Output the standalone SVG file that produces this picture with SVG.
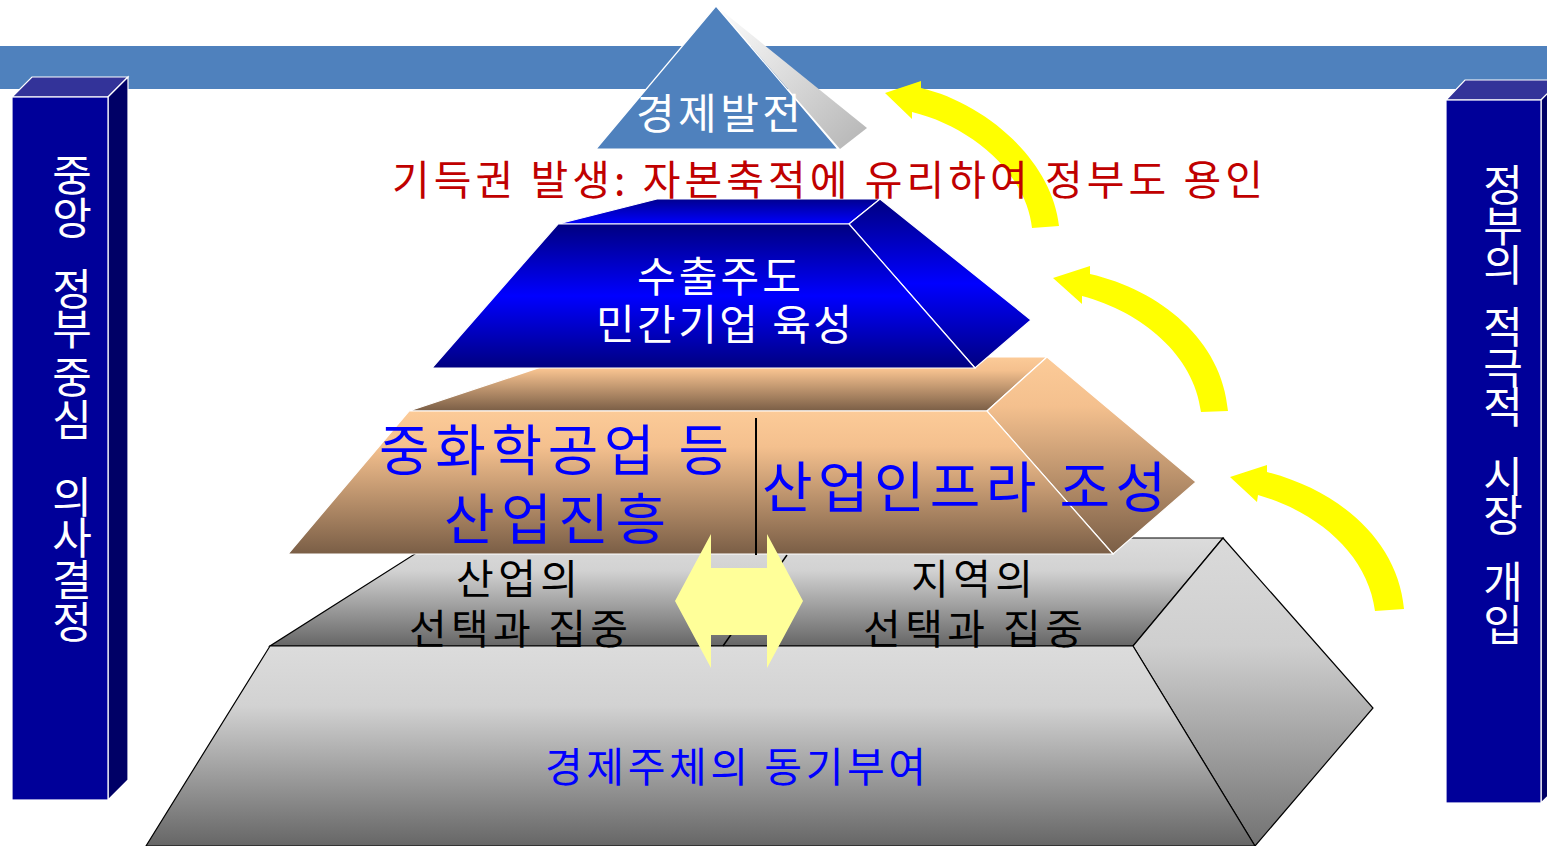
<svg xmlns="http://www.w3.org/2000/svg" width="1547" height="846" viewBox="0 0 1547 846">
  <defs>
    <linearGradient id="gBlue" x1="0" y1="0" x2="0" y2="1">
      <stop offset="0" stop-color="#000080"/>
      <stop offset="0.5" stop-color="#0000ff"/>
      <stop offset="1" stop-color="#000080"/>
    </linearGradient>
    <linearGradient id="gBlueTop" x1="0" y1="0" x2="0" y2="1">
      <stop offset="0" stop-color="#000090"/>
      <stop offset="1" stop-color="#0000ff"/>
    </linearGradient>
    <linearGradient id="gTan" x1="0" y1="0" x2="0" y2="1">
      <stop offset="0" stop-color="#fccb98"/>
      <stop offset="0.25" stop-color="#f4c08e"/>
      <stop offset="1" stop-color="#7a5e46"/>
    </linearGradient>
    <linearGradient id="gGray" x1="0" y1="0" x2="0" y2="1">
      <stop offset="0" stop-color="#dcdcdc"/>
      <stop offset="0.3" stop-color="#d2d2d2"/>
      <stop offset="1" stop-color="#666666"/>
    </linearGradient>
    <linearGradient id="gGraySide" x1="0" y1="0" x2="0" y2="1">
      <stop offset="0" stop-color="#dadada"/>
      <stop offset="0.35" stop-color="#cfcfcf"/>
      <stop offset="1" stop-color="#727272"/>
    </linearGradient>
    <linearGradient id="gSliver" x1="0" y1="0" x2="1" y2="1">
      <stop offset="0" stop-color="#ffffff"/>
      <stop offset="1" stop-color="#b4b4b4"/>
    </linearGradient>
    <style>
      .kr { font-family: "Noto Sans CJK KR", "Noto Sans", sans-serif; }
      .white { fill: #ffffff; }
      .wedge { stroke: #ffffff; stroke-width: 1.2; }
      .kedge { stroke: #000000; stroke-width: 1.2; }
      .yel { fill: #ffff00; }
    </style>
  </defs>

  <!-- top band -->
  <rect id="band" x="0" y="46" width="1547" height="43" fill="#4f81bd"/>

  <!-- left column -->
  <g id="left-bar">
    <polygon points="12,97 32,77 128,77 108,97" fill="#333399" class="wedge"/>
    <polygon points="108,97 128,77 128,780 108,800" fill="#000066" class="wedge"/>
    <rect x="12" y="97" width="96" height="703" fill="#000099" class="wedge"/>
    <text class="kr white" font-size="43" text-anchor="middle"
      x="72 72 72 72 72 72 72 72 72 72 72 72 72"
      y="191 234 269 305 345 369 393 436 474 513 554 596 638">중앙 정부 중심 의사결정</text>
  </g>

  <!-- right column -->
  <g id="right-bar">
    <polygon points="1446,100 1465,80 1561,80 1541,100" fill="#333399" class="wedge"/>
    <polygon points="1541,100 1561,80 1561,783 1541,803" fill="#000066" class="wedge"/>
    <rect x="1446" y="100" width="95" height="703" fill="#000099" class="wedge"/>
    <text class="kr white" font-size="43" text-anchor="middle"
      x="1503 1503 1503 1503 1503 1503 1503 1503 1503 1503 1503 1503 1503"
      y="201 242 281 312 343 384 423 458 493 531 564 598 641">정부의 적극적 시장 개입</text>
  </g>

  <!-- bottom gray layer -->
  <g id="layer-base">
    <polygon points="440,538 1223,538 1133,646 270,646" fill="url(#gGray)" class="kedge"/>
    <polygon points="1223,538 1373,708 1255,846 1133,646" fill="url(#gGraySide)" class="kedge"/>
    <polygon points="270,646 1133,646 1255,846 146,846" fill="url(#gGray)" class="kedge"/>
    <line x1="787" y1="555" x2="723" y2="646" stroke="#000" stroke-width="1.5"/>
    <text class="kr" font-size="41" fill="#000" x="456" y="594" textLength="122" lengthAdjust="spacing">산업의</text>
    <text class="kr" font-size="41" fill="#000" x="409" y="644" textLength="219" lengthAdjust="spacing">선택과 집중</text>
    <text class="kr" font-size="41" fill="#000" x="911" y="594" textLength="122" lengthAdjust="spacing">지역의</text>
    <text class="kr" font-size="41" fill="#000" x="863" y="644" textLength="220" lengthAdjust="spacing">선택과 집중</text>
    <text class="kr" font-size="41" fill="#0000ff" x="545" y="782" textLength="381" lengthAdjust="spacing">경제주체의 동기부여</text>
  </g>

  <!-- tan layer -->
  <g id="layer-tan">
    <polygon points="409,411 571,357 1047,357 987,411" fill="url(#gTan)" class="wedge"/>
    <polygon points="987,411 1047,357 1196,482 1113,554" fill="url(#gTan)" class="wedge"/>
    <polygon points="409,411 987,411 1113,554 288,554" fill="url(#gTan)" class="wedge"/>
    <line x1="756" y1="418" x2="756" y2="555" stroke="#000" stroke-width="2"/>
    <text class="kr" font-size="55" fill="#0000ff" x="379" y="470" textLength="350" lengthAdjust="spacing">중화학공업 등</text>
    <text class="kr" font-size="55" fill="#0000ff" x="444" y="539" textLength="222" lengthAdjust="spacing">산업진흥</text>
    <text class="kr" font-size="55" fill="#0000ff" x="762" y="507" textLength="404" lengthAdjust="spacing">산업인프라 조성</text>
  </g>

  <!-- blue layer -->
  <g id="layer-blue">
    <polygon points="558,224 657,199 880,199 849,224" fill="url(#gBlueTop)" class="wedge"/>
    <polygon points="849,224 880,199 1031,320 975,368" fill="url(#gBlue)" class="wedge"/>
    <polygon points="558,224 849,224 975,368 432,368" fill="url(#gBlue)" class="wedge"/>
    <text class="kr white" font-size="42" x="637" y="292" textLength="164" lengthAdjust="spacing">수출주도</text>
    <text class="kr white" font-size="42" x="596" y="340" textLength="256" lengthAdjust="spacing">민간기업 육성</text>
  </g>

  <!-- apex -->
  <g id="apex">
    <polygon points="716,6 867,128 840,149" fill="url(#gSliver)"/>
    <polygon points="716,6 838,149 596,149" fill="#4f81bd" stroke="#ffffff" stroke-width="1.2"/>
    <text class="kr white" font-size="42" x="636" y="129" textLength="165" lengthAdjust="spacing">경제발전</text>
  </g>

  <!-- connectors -->
  <g id="connectors">
    <polygon points="675,601 711,534 711,568 767,568 767,534 803,601 767,668 767,635 711,635 711,668" fill="#ffff99"/>
    <path class="yel" d="M921,88 C985,103 1052,160 1059,226 L1032,228 C1026,172 970,126 912,112 L912,119 L885,93 L921,81 Z"/>
    <path class="yel" d="M1090,274 C1160,290 1222,340 1228,411 L1201,412 C1194,355 1142,312 1082,296 L1082,304 L1053,278 L1090,266 Z"/>
    <path class="yel" d="M1267,472 C1338,490 1398,540 1404,609 L1375,611 C1368,555 1318,512 1258,495 L1257,502 L1230,477 L1267,465 Z"/>
  </g>

  <!-- red caption -->
  <text id="caption" class="kr" font-size="41" fill="#c00000" x="392" y="195" textLength="871" lengthAdjust="spacing">기득권 발생: 자본축적에 유리하여 정부도 용인</text>
</svg>
